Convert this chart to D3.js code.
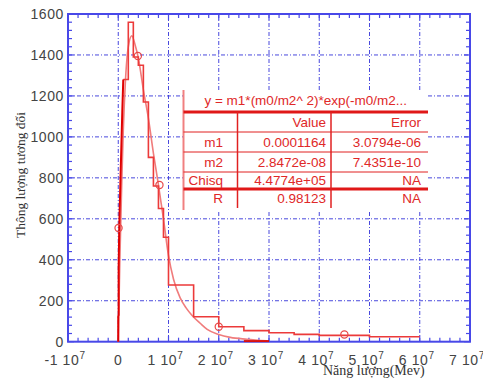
<!DOCTYPE html>
<html><head><meta charset="utf-8">
<script src="https://cdn.jsdelivr.net/npm/d3@7/dist/d3.min.js"></script>
<style>body{margin:0;background:#fff}svg{display:block}</style>
</head><body>
<svg id="c" width="483" height="378"></svg>
<script>
// ---- data (energy in units of 1e6 Mev) ----
const xTicks = [-10, 0, 10, 20, 30, 40, 50, 60, 70];
const xTickMant = ["-1", "0", "1", "2", "3", "4", "5", "6", "7"];
const yTicks = [0, 200, 400, 600, 800, 1000, 1200, 1400, 1600];
// histogram: bin edges and counts
const histEdges = [1, 2, 3, 4, 5, 6, 7, 8, 9, 10, 15, 20, 25, 30, 35, 40, 50, 60];
const histCounts = [1280, 1560, 1390, 1350, 1170, 900, 760, 650, 510, 277, 122, 73, 54, 44, 36, 31, 24];
// steep rise near zero energy
const risePts = [[0, 0], [0, 125], [0.08, 130], [0.08, 360], [0.2, 560], [0.45, 800], [0.8, 1120], [1.0, 1280]];
const lowTail = [[25, 3], [30, 3]];
// fitted curve
const fitX = [0, 0.3, 0.7, 1.0, 1.4, 2.0, 2.7, 3.4, 4.0, 5.0, 6.0, 7.0, 8.0, 9.0, 10.0, 11.0, 12.3, 13.5, 14.7, 16.3, 17.7, 20, 22.3, 25.6, 29.6];
const fitY = [0, 380, 780, 1030, 1260, 1440, 1494, 1445, 1385, 1230, 1090, 920, 765, 600, 420, 305, 215, 165, 128, 90, 60, 35, 21, 12, 4];
// circle markers
const markX = [0.06, 3.9, 8.2, 20, 45];
const markY = [555, 1395, 765, 73, 35];
// fit results table
const fitTitle = "y = m1*(m0/m2^ 2)*exp(-m0/m2...";
const tblHead = ["", "Value", "Error"];
const tblRows = [["m1", "0.0001164", "3.0794e-06"], ["m2", "2.8472e-08", "7.4351e-10"], ["Chisq", "4.4774e+05", "NA"], ["R", "0.98123", "NA"]];

const svg = d3.select("#c");
const L = 68, R = 470, T = 14, B = 341.7;
const x = d3.scaleLinear().domain([-10, 70]).range([L, R]);
const y = d3.scaleLinear().domain([0, 1600]).range([B, T]);
const blue = "#4848e8";

// grid
const grid = svg.append("g").attr("stroke", "#2a2ad8").attr("stroke-width", 1).attr("stroke-dasharray", "4,2,1,2").attr("opacity", 0.85);
xTicks.filter(t => t > -10 && t < 70).forEach(t => grid.append("line").attr("x1", x(t)).attr("x2", x(t)).attr("y1", T).attr("y2", B));
yTicks.filter(t => t > 0 && t < 1600).forEach(t => grid.append("line").attr("y1", y(t)).attr("y2", y(t)).attr("x1", L).attr("x2", R));

// minor & major ticks on all four sides
const tk = svg.append("g").attr("stroke", blue).attr("stroke-width", 1.2);
d3.range(-10, 70.01, 2).forEach(t => {
  const len = (Math.round(t) % 10 === 0) ? 6 : 4;
  tk.append("line").attr("x1", x(t)).attr("x2", x(t)).attr("y1", B).attr("y2", B - len);
  tk.append("line").attr("x1", x(t)).attr("x2", x(t)).attr("y1", T).attr("y2", T + len);
});
d3.range(0, 1600.01, 40).forEach(t => {
  const len = (Math.round(t) % 200 === 0) ? 6 : 4;
  tk.append("line").attr("y1", y(t)).attr("y2", y(t)).attr("x1", L).attr("x2", L + len);
  tk.append("line").attr("y1", y(t)).attr("y2", y(t)).attr("x1", R).attr("x2", R - len);
});
// frame
svg.append("rect").attr("x", L).attr("y", T).attr("width", R - L).attr("height", B - T)
  .attr("fill", "none").attr("stroke", blue).attr("stroke-width", 2);

// fit curve
const line = d3.line().x(d => x(d[0])).y(d => y(d[1])).curve(d3.curveMonotoneX);
svg.append("path").datum(fitX.map((v, i) => [v, fitY[i]])).attr("d", line)
  .attr("fill", "none").attr("stroke", "#f07c7c").attr("stroke-width", 1.6);

// histogram steps
const steps = [];
histCounts.forEach((c, i) => { steps.push([histEdges[i], c]); steps.push([histEdges[i + 1], c]); });
svg.append("path").datum(steps).attr("d", d3.line().x(d => x(d[0])).y(d => y(d[1])))
  .attr("fill", "none").attr("stroke", "#ec3a3a").attr("stroke-width", 1.6);
svg.append("path").datum(risePts).attr("d", d3.line().x(d => x(d[0])).y(d => y(d[1])))
  .attr("fill", "none").attr("stroke", "#e00000").attr("stroke-width", 2);
svg.append("path").datum(lowTail).attr("d", d3.line().x(d => x(d[0])).y(d => y(d[1])))
  .attr("fill", "none").attr("stroke", "#d81010").attr("stroke-width", 2);

// markers
svg.append("g").selectAll("circle").data(markX).join("circle")
  .attr("cx", d => x(d)).attr("cy", (d, i) => y(markY[i])).attr("r", 3.6)
  .attr("fill", "none").attr("stroke", "#e84848").attr("stroke-width", 1.2);

// tick labels
const lab = svg.append("g").attr("font-family", "Liberation Sans, Arial, sans-serif").attr("font-size", 14).attr("fill", "#444").attr("letter-spacing", "0.6");
yTicks.forEach(t => lab.append("text").attr("x", L - 4).attr("y", y(t)).attr("dy", "0.36em").attr("text-anchor", "end").text(t));
xTicks.forEach((t, i) => {
  const tx = lab.append("text").attr("x", x(t) - (t === 0 ? 0 : 3)).attr("y", 365).attr("text-anchor", "middle");
  if (t === 0) { tx.text("0"); return; }
  tx.append("tspan").text(xTickMant[i] + " 10");
  tx.append("tspan").attr("dy", -6).attr("font-size", 10).text("7");
});

// axis titles
svg.append("text").attr("x", 323).attr("y", 375).attr("font-family", "Liberation Serif, Times New Roman, serif")
  .attr("font-size", 14).attr("fill", "#333").text("Năng lượng(Mev)");
svg.append("text").attr("transform", "translate(25,175) rotate(-90)").attr("text-anchor", "middle")
  .attr("font-family", "Liberation Serif, Times New Roman, serif").attr("font-size", 13.5).attr("fill", "#333").text("Thông lượng tương đối");

// fit table
const tb = svg.append("g");
const tL = 183.5, tR = 428, c1 = 237.5, c2 = 331;
const rowY = [112, 132, 152, 172, 189, 208];
tb.append("rect").attr("x", tL).attr("y", 90).attr("width", tR - tL).attr("height", 120).attr("fill", "#fff");
tb.append("line").attr("x1", tL).attr("x2", tL).attr("y1", 90).attr("y2", 210).attr("stroke", "#f08080").attr("stroke-width", 2);
tb.append("line").attr("x1", tL).attr("x2", tR).attr("y1", rowY[0]).attr("y2", rowY[0]).attr("stroke", "#e01818").attr("stroke-width", 3);
tb.append("line").attr("x1", tL).attr("x2", tR).attr("y1", rowY[4]).attr("y2", rowY[4]).attr("stroke", "#e01818").attr("stroke-width", 3);
[1, 2, 3].forEach(k => tb.append("line").attr("x1", tL).attr("x2", tR).attr("y1", rowY[k]).attr("y2", rowY[k]).attr("stroke", "#e02020").attr("stroke-width", 1));
[c1, c2].forEach(cx => tb.append("line").attr("x1", cx).attr("x2", cx).attr("y1", rowY[0]).attr("y2", rowY[5]).attr("stroke", "#e02020").attr("stroke-width", 1.5));
const tt = tb.append("g").attr("font-family", "Liberation Sans, Arial, sans-serif").attr("font-size", 13.5).attr("fill", "#e02828");
tt.append("text").attr("x", (tL + tR) / 2).attr("y", 105).attr("text-anchor", "middle").text(fitTitle);
const colR = [223, 326, 421];
[tblHead].concat(tblRows).forEach((r, i) => {
  const cy = (rowY[i] + rowY[i + 1]) / 2 + 4.8;
  r.forEach((s, j) => tt.append("text").attr("x", colR[j]).attr("y", cy).attr("text-anchor", "end").text(s));
});
</script>
</body></html>
